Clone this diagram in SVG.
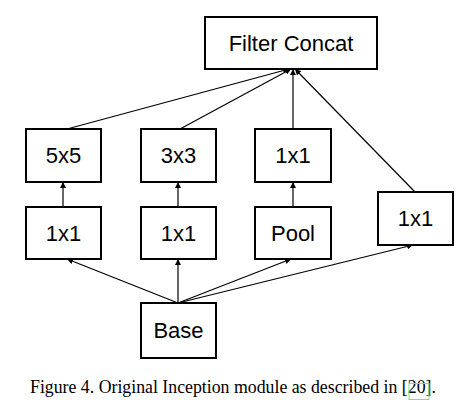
<svg xmlns="http://www.w3.org/2000/svg" width="474" height="414" viewBox="0 0 474 414">
<defs>
<style>
.box{fill:#fff;stroke:#000;stroke-width:2}
.lbl{font-family:"Liberation Sans",Arial,sans-serif;font-size:22px;text-anchor:middle;fill:#000}
.edge{stroke:#000;stroke-width:1.2;fill:none;marker-end:url(#ah)}
.cap{font-family:"Liberation Serif","Times New Roman",serif;font-size:17.8px;fill:#000}
</style>
<marker id="ah" viewBox="0 0 10 10" refX="10" refY="5" markerWidth="6" markerHeight="6" markerUnits="userSpaceOnUse" orient="auto">
<path d="M0,0 L10,5 L0,10 z" fill="#000"/>
</marker>
</defs>
<rect width="474" height="414" fill="#fff"/>
<g id="connectors">
<line class="edge" x1="178" y1="303" x2="67" y2="259"/>
<line class="edge" x1="178" y1="303" x2="178" y2="259"/>
<line class="edge" x1="178" y1="303" x2="291" y2="259"/>
<line class="edge" x1="178" y1="303" x2="413" y2="245"/>
<line class="edge" x1="63" y1="207" x2="63" y2="182"/>
<line class="edge" x1="178" y1="207" x2="178" y2="182"/>
<line class="edge" x1="293" y1="207" x2="293" y2="182"/>
<line class="edge" x1="67" y1="129" x2="289" y2="69"/>
<line class="edge" x1="180" y1="129" x2="291" y2="69"/>
<line class="edge" x1="293" y1="129" x2="293" y2="69"/>
<line class="edge" x1="415" y1="192" x2="295" y2="69"/>
</g>
<g id="concat"><rect class="box" x="205" y="17" width="172" height="52"/><text class="lbl" x="291" y="51">Filter Concat</text></g>
<g id="conv5"><rect class="box" x="26" y="129" width="75" height="53"/><text class="lbl" x="63.5" y="163">5x5</text></g>
<g id="conv3"><rect class="box" x="141" y="129" width="75" height="53"/><text class="lbl" x="178.5" y="163">3x3</text></g>
<g id="poolproj"><rect class="box" x="255" y="129" width="76" height="53"/><text class="lbl" x="293" y="163">1x1</text></g>
<g id="reduce5"><rect class="box" x="26" y="207" width="75" height="52"/><text class="lbl" x="63.5" y="241">1x1</text></g>
<g id="reduce3"><rect class="box" x="141" y="207" width="75" height="52"/><text class="lbl" x="178.5" y="241">1x1</text></g>
<g id="pool"><rect class="box" x="255" y="207" width="76" height="52"/><text class="lbl" x="293" y="241">Pool</text></g>
<g id="conv1"><rect class="box" x="378" y="192" width="75" height="53"/><text class="lbl" x="415.5" y="226">1x1</text></g>
<g id="base"><rect class="box" x="141" y="303" width="75" height="55"/><text class="lbl" x="178.5" y="338">Base</text></g>
<g id="caption">
<text class="cap" x="30" y="393">Figure 4. Original Inception module as described in [<tspan>20</tspan>].</text>
<rect x="409" y="383.5" width="20" height="16" fill="none" stroke="#7fe07f" stroke-width="1"/>
</g>
</svg>
